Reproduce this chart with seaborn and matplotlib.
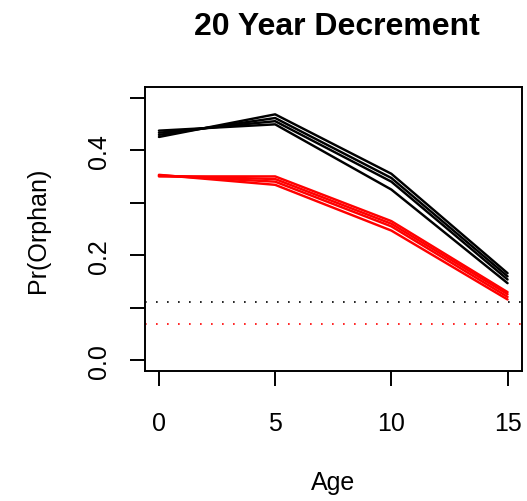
import numpy as np
import pandas as pd
import matplotlib
matplotlib.use("Agg")
import matplotlib.pyplot as plt
import seaborn as sns

# Probability of being orphaned by child age, four runs per scenario
ages = [0, 5, 10, 15]
black_runs = [
    [0.437, 0.449, 0.325, 0.147],
    [0.433, 0.455, 0.340, 0.154],
    [0.429, 0.461, 0.347, 0.160],
    [0.425, 0.468, 0.355, 0.166],
]
red_runs = [
    [0.353, 0.334, 0.247, 0.116],
    [0.352, 0.340, 0.255, 0.121],
    [0.351, 0.345, 0.260, 0.126],
    [0.350, 0.350, 0.265, 0.130],
]
black_baseline = 0.112
red_baseline = 0.069

y_ticks = [0.0, 0.1, 0.2, 0.3, 0.4, 0.5]
y_tick_labels = ["0.0", "", "0.2", "", "0.4", ""]
x_ticks = [0, 5, 10, 15]

rows = []
for grp, runs in (("black", black_runs), ("red", red_runs)):
    for i, run in enumerate(runs):
        for a, p in zip(ages, run):
            rows.append({"group": grp, "run": f"{grp}{i}", "Age": a, "p": p})
df = pd.DataFrame(rows)

sns.set_style("white")
plt.rcParams["font.family"] = ["Liberation Sans", "DejaVu Sans"]
plt.rcParams.update({
    "text.color": "black",
    "axes.labelcolor": "black",
    "xtick.color": "black",
    "ytick.color": "black",
    "xtick.bottom": True,
    "ytick.left": True,
})

W, H = 527, 502
fig = plt.figure(figsize=(W / 100, H / 100), dpi=100)
ax = fig.add_axes([145 / W, 1 - 372 / H, (521.5 - 145) / W, (372 - 88) / H])

sns.lineplot(data=df, x="Age", y="p", hue="group", units="run", estimator=None,
             palette={"black": "black", "red": "red"}, linewidth=1.75,
             legend=False, ax=ax)

ax.axhline(black_baseline, color="black", lw=1.2, dashes=[1, 5.6])
ax.axhline(red_baseline, color="red", lw=1.2, dashes=[1, 5.6])

ax.set_xlim(-0.6, 15.6)
ax.set_ylim(-0.02, 0.52)
ax.set_xticks(x_ticks)
ax.set_xticklabels([str(t) for t in x_ticks])
ax.set_yticks(y_ticks)
ax.set_yticklabels(y_tick_labels, rotation=90, va="center")
ax.tick_params(axis="both", which="major", bottom=True, left=True,
               length=10.8, width=1.4, labelsize=18, color="black",
               labelcolor="black", direction="out")
ax.tick_params(axis="x", pad=18)
ax.tick_params(axis="y", pad=14)
ax.set_xlabel("")
ax.set_ylabel("")
for s in ax.spines.values():
    s.set_visible(True)
    s.set_color("black")
    s.set_linewidth(1.4)

fig.text(336.5 / W, 1 - 35 / H, "20 Year Decrement", ha="center", va="baseline",
         fontsize=23, fontweight="bold", color="black")
fig.text(333 / W, 1 - 490 / H, "Age", ha="center", va="baseline",
         fontsize=18, color="black")
fig.text(38 / W, 1 - 230 / H, "Pr(Orphan)", ha="center", va="center",
         rotation=90, fontsize=18, color="black")

fig.savefig("out.png", dpi=100, facecolor="white")
